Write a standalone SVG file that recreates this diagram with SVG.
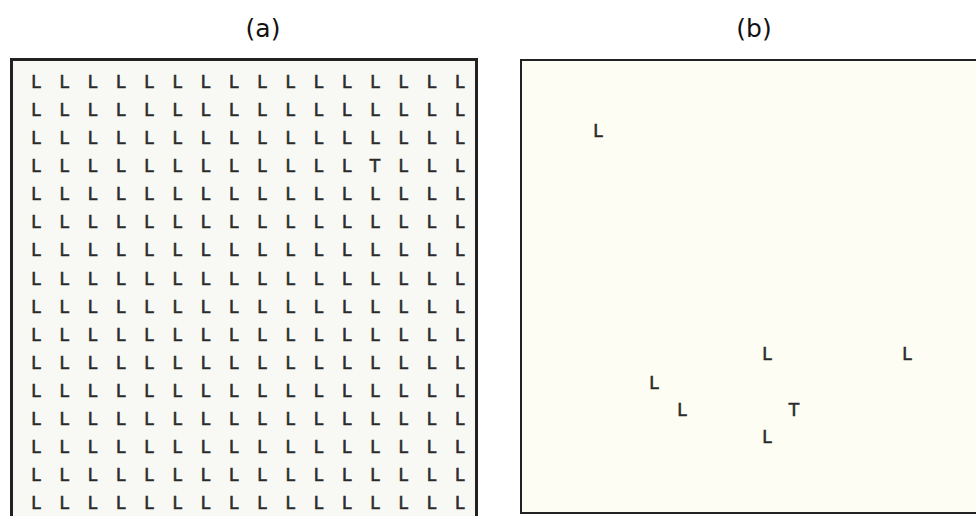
<svg xmlns="http://www.w3.org/2000/svg" width="976" height="516" viewBox="0 0 976 516">
<style>
.lbl{font-family:"DejaVu Sans",Verdana,sans-serif;font-size:25px;fill:#111;text-anchor:middle}
.g{font-family:"DejaVu Sans",Verdana,sans-serif;font-size:17px;fill:#2a2a2a;stroke:#2a2a2a;stroke-width:0.6;text-anchor:middle}
</style>
<rect width="976" height="516" fill="#ffffff"/>
<text class="lbl" x="263" y="37">(a)</text>
<text class="lbl" x="754" y="37">(b)</text>
<g id="panel-a">
<rect x="11.5" y="59.5" width="465" height="470" fill="#f8f8f4" stroke="#222" stroke-width="3"/>
<g id="grid">
<text class="g" x="36 64.25 92.5 120.75 149 177.25 205.5 233.75 262 290.25 318.5 346.75 375 403.25 431.5 459.75" y="88">LLLLLLLLLLLLLLLL</text>
<text class="g" x="36 64.25 92.5 120.75 149 177.25 205.5 233.75 262 290.25 318.5 346.75 375 403.25 431.5 459.75" y="116.1">LLLLLLLLLLLLLLLL</text>
<text class="g" x="36 64.25 92.5 120.75 149 177.25 205.5 233.75 262 290.25 318.5 346.75 375 403.25 431.5 459.75" y="144.1">LLLLLLLLLLLLLLLL</text>
<text class="g" x="36 64.25 92.5 120.75 149 177.25 205.5 233.75 262 290.25 318.5 346.75 375 403.25 431.5 459.75" y="172.2">LLLLLLLLLLLLTLLL</text>
<text class="g" x="36 64.25 92.5 120.75 149 177.25 205.5 233.75 262 290.25 318.5 346.75 375 403.25 431.5 459.75" y="200.3">LLLLLLLLLLLLLLLL</text>
<text class="g" x="36 64.25 92.5 120.75 149 177.25 205.5 233.75 262 290.25 318.5 346.75 375 403.25 431.5 459.75" y="228.4">LLLLLLLLLLLLLLLL</text>
<text class="g" x="36 64.25 92.5 120.75 149 177.25 205.5 233.75 262 290.25 318.5 346.75 375 403.25 431.5 459.75" y="256.4">LLLLLLLLLLLLLLLL</text>
<text class="g" x="36 64.25 92.5 120.75 149 177.25 205.5 233.75 262 290.25 318.5 346.75 375 403.25 431.5 459.75" y="284.5">LLLLLLLLLLLLLLLL</text>
<text class="g" x="36 64.25 92.5 120.75 149 177.25 205.5 233.75 262 290.25 318.5 346.75 375 403.25 431.5 459.75" y="312.6">LLLLLLLLLLLLLLLL</text>
<text class="g" x="36 64.25 92.5 120.75 149 177.25 205.5 233.75 262 290.25 318.5 346.75 375 403.25 431.5 459.75" y="340.6">LLLLLLLLLLLLLLLL</text>
<text class="g" x="36 64.25 92.5 120.75 149 177.25 205.5 233.75 262 290.25 318.5 346.75 375 403.25 431.5 459.75" y="368.7">LLLLLLLLLLLLLLLL</text>
<text class="g" x="36 64.25 92.5 120.75 149 177.25 205.5 233.75 262 290.25 318.5 346.75 375 403.25 431.5 459.75" y="396.8">LLLLLLLLLLLLLLLL</text>
<text class="g" x="36 64.25 92.5 120.75 149 177.25 205.5 233.75 262 290.25 318.5 346.75 375 403.25 431.5 459.75" y="424.8">LLLLLLLLLLLLLLLL</text>
<text class="g" x="36 64.25 92.5 120.75 149 177.25 205.5 233.75 262 290.25 318.5 346.75 375 403.25 431.5 459.75" y="452.9">LLLLLLLLLLLLLLLL</text>
<text class="g" x="36 64.25 92.5 120.75 149 177.25 205.5 233.75 262 290.25 318.5 346.75 375 403.25 431.5 459.75" y="481">LLLLLLLLLLLLLLLL</text>
<text class="g" x="36 64.25 92.5 120.75 149 177.25 205.5 233.75 262 290.25 318.5 346.75 375 403.25 431.5 459.75" y="509">LLLLLLLLLLLLLLLL</text>
</g>
</g>
<g id="panel-b">
<rect x="521" y="60" width="470" height="453" fill="#fdfdf4" stroke="#222" stroke-width="2"/>
<text class="g" x="598" y="137">L</text>
<text class="g" x="767" y="360">L</text>
<text class="g" x="907" y="360">L</text>
<text class="g" x="654" y="389">L</text>
<text class="g" x="682" y="416">L</text>
<text class="g" x="794" y="416">T</text>
<text class="g" x="767" y="443">L</text>
</g>
</svg>
